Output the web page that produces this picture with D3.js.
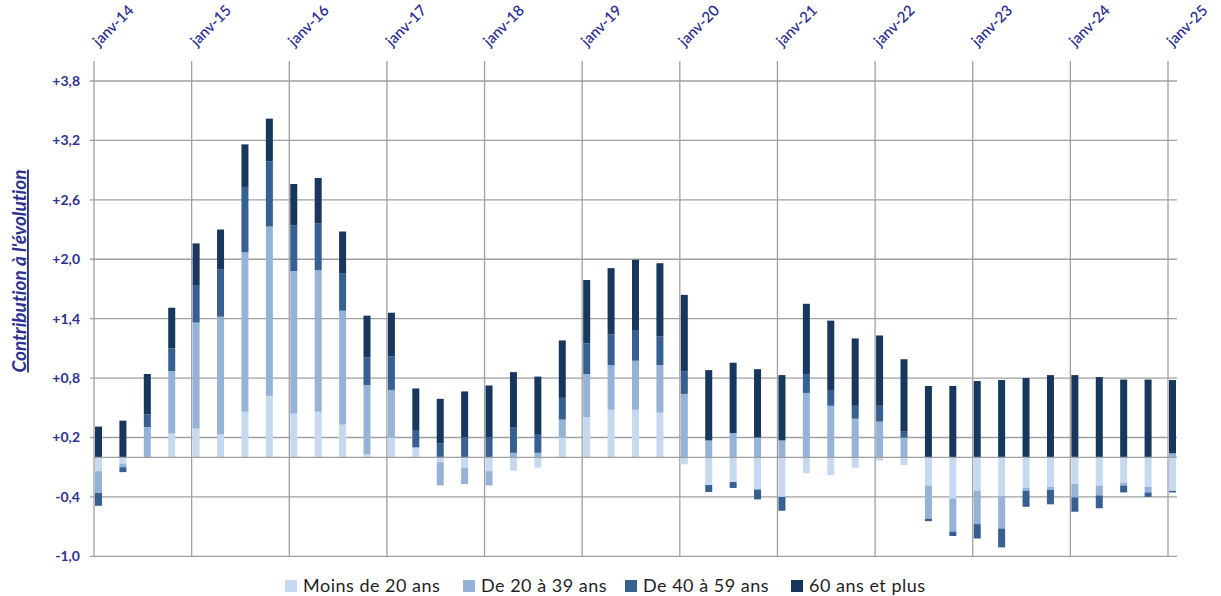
<!DOCTYPE html>
<html><head><meta charset="utf-8">
<script src="https://cdn.jsdelivr.net/npm/d3@7"></script>
<style>
html,body{margin:0;padding:0;background:#fff;}
svg{display:block;font-family:Lato,"Open Sans",sans-serif;font-variant-ligatures:none;}
</style></head>
<body>
<svg id="chart" width="1221" height="596"></svg>
<script>
// ---- Data ----
const quarters = d3.range(45).map(i => (2014 + Math.floor(i/4)) + "-T" + (i%4+1));
const yearLabels = ["janv-14","janv-15","janv-16","janv-17","janv-18","janv-19","janv-20","janv-21","janv-22","janv-23","janv-24","janv-25"];
const seriesNames = ["Moins de 20 ans","De 20 à 39 ans","De 40 à 59 ans","60 ans et plus"];
const moins20 = [-0.14,-0.065,0.0,0.24,0.29,0.23,0.46,0.62,0.44,0.46,
  0.33,0.03,0.20,0.10,-0.05,-0.11,-0.14,-0.135,-0.105,0.20,
  0.405,0.48,0.48,0.45,-0.07,-0.28,-0.25,-0.325,-0.40,-0.16,
  -0.18,-0.105,-0.035,-0.08,-0.285,-0.415,-0.34,-0.39,-0.31,-0.30,
  -0.27,-0.285,-0.255,-0.30,-0.34];
const de20a39 = [-0.22,-0.035,0.306,0.63,1.07,1.19,1.61,1.71,1.44,1.43,
  1.15,0.70,0.48,0.0,-0.235,-0.16,-0.145,0.045,0.045,0.18,
  0.435,0.45,0.495,0.48,0.64,0.17,0.245,0.20,0.17,0.65,
  0.52,0.39,0.36,0.20,-0.335,-0.335,-0.335,-0.33,-0.03,-0.03,
  -0.135,-0.10,-0.03,-0.055,0.04];
const de40a59 = [-0.13,-0.05,0.128,0.23,0.38,0.48,0.66,0.66,0.46,0.47,
  0.38,0.28,0.34,0.175,0.14,0.205,0.205,0.26,0.19,0.22,
  0.31,0.31,0.31,0.29,0.23,-0.07,-0.06,-0.10,-0.14,0.19,
  0.16,0.13,0.16,0.06,-0.025,-0.045,-0.145,-0.19,-0.16,-0.145,
  -0.145,-0.13,-0.07,-0.045,-0.015];
const plus60 = [0.31,0.37,0.407,0.41,0.42,0.40,0.43,0.43,0.42,0.46,
  0.42,0.42,0.44,0.42,0.45,0.46,0.52,0.555,0.58,0.58,
  0.64,0.67,0.71,0.74,0.77,0.71,0.71,0.69,0.66,0.71,
  0.70,0.68,0.71,0.73,0.72,0.72,0.77,0.78,0.80,0.83,
  0.83,0.81,0.785,0.785,0.74];
const yTicks = [-1.0,-0.4,0.2,0.8,1.4,2.0,2.6,3.2,3.8];
const colors = ["#c6d9f0","#95b3d7","#366092","#17375e"];

// ---- Build table ----
const keys = ["m20","a2039","a4059","p60"];
const table = quarters.map((q,i) => ({q, i, m20:moins20[i], a2039:de20a39[i], a4059:de40a59[i], p60:plus60[i]}));
const stacked = d3.stack().keys(keys).offset(d3.stackOffsetDiverging)(table);

const svg = d3.select("#chart");
const x = d3.scaleLinear().domain([0,44]).range([94,1168]);
const y = d3.scaleLinear().domain([-1.0,3.8]).range([556.3,81]);
const txtColor = "#2e3192";
const gridColor = "#a0a0a0";
const left = 90, right = 1177;

// horizontal gridlines
svg.append("g").selectAll("line").data(yTicks).join("line")
  .attr("x1", left).attr("x2", right)
  .attr("y1", d => y(d)).attr("y2", d => y(d))
  .attr("stroke", gridColor).attr("stroke-width", 1.3);

// vertical gridlines at years
const yearIdx = d3.range(0,45,4);
svg.append("g").selectAll("line").data(yearIdx).join("line")
  .attr("x1", d => x(d)).attr("x2", d => x(d))
  .attr("y1", 61).attr("y2", y(-1.0))
  .attr("stroke", gridColor).attr("stroke-width", 1.3);

// y tick labels
const fmt = v => (v > 0 ? "+" : "-") + Math.abs(v).toFixed(1).replace(".", ",");
svg.append("g").selectAll("text").data(yTicks).join("text")
  .attr("x", 80).attr("y", d => y(d)).attr("dy", "0.35em")
  .attr("text-anchor", "end").attr("fill", txtColor)
  .attr("font-weight", "bold").attr("font-size", 14)
  .text(fmt);

// x labels (top, rotated)
svg.append("g").selectAll("text").data(yearIdx).join("text")
  .attr("transform", (d) => `translate(${x(d)+5},47) rotate(-45)`)
  .attr("fill", txtColor).attr("font-size", 15).attr("font-weight", 600)
  .text((d,k) => yearLabels[k]);

// bars
const barW = 7;
svg.append("g").selectAll("g").data(stacked).join("g")
  .attr("fill", (s,k) => colors[k])
  .selectAll("rect").data(s => s).join("rect")
  .attr("x", d => x(d.data.i) + 1)
  .attr("width", barW)
  .attr("y", d => y(Math.max(d[0], d[1])))
  .attr("height", d => Math.abs(y(d[0]) - y(d[1])));

// zero line
svg.append("line")
  .attr("x1", 94).attr("x2", right)
  .attr("y1", y(0)).attr("y2", y(0))
  .attr("stroke", gridColor).attr("stroke-width", 1.3);

// y axis title
svg.append("text")
  .attr("transform", "translate(26,271) rotate(-90)")
  .attr("text-anchor", "middle")
  .attr("fill", txtColor).attr("font-weight", "bold").attr("font-style", "italic")
  .attr("font-size", 19).attr("text-decoration", "underline")
  .text("Contribution à l'évolution");

// legend
const legX = [285, 463, 625, 791];
const leg = svg.append("g").selectAll("g").data(seriesNames).join("g")
  .attr("transform", (d,k) => `translate(${legX[k]},580)`);
leg.append("rect").attr("width", 12).attr("height", 12).attr("fill", (d,k) => colors[k]);
leg.append("text").attr("x", 18).attr("y", 12).attr("font-size", 18)
  .attr("letter-spacing", 0.5).attr("fill", "#1f1f1f").text(d => d);
</script>
</body></html>
